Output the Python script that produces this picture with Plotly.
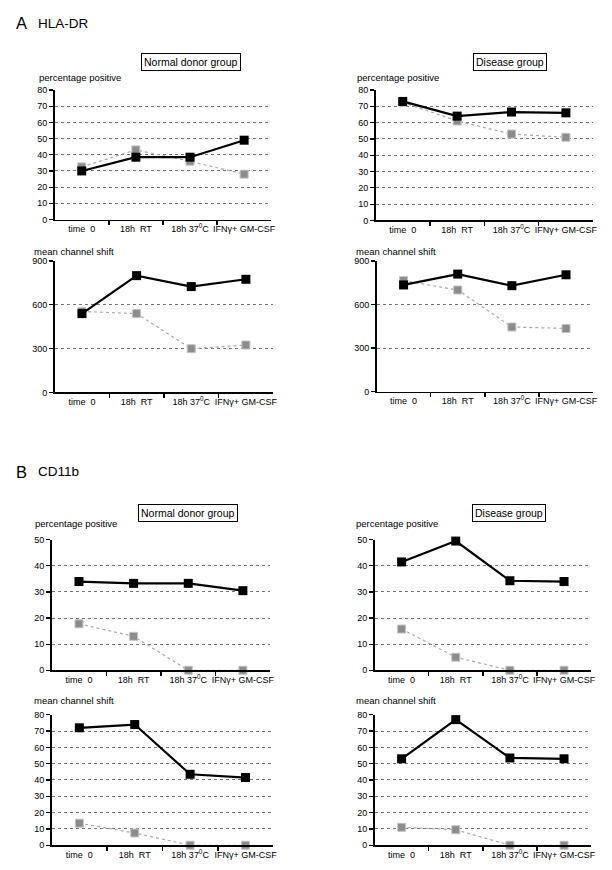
import plotly.graph_objects as go

W, H = 612, 870

categories = ["time  0", "18h  RT", "18h 37<sup>0</sup>C", "IFNγ+ GM-CSF"]

# Panel A: HLA-DR
a_norm_pct_black = [30, 38.5, 38.5, 49]
a_norm_pct_gray = [32.5, 43, 36, 28]
a_dis_pct_black = [73, 64, 66.5, 66]
a_dis_pct_gray = [72.5, 61, 53, 51]
a_norm_mcs_black = [540, 800, 725, 775]
a_norm_mcs_gray = [555, 540, 300, 325]
a_dis_mcs_black = [735, 810, 730, 805]
a_dis_mcs_gray = [765, 700, 445, 435]

# Panel B: CD11b
b_norm_pct_black = [34, 33.3, 33.3, 30.5]
b_norm_pct_gray = [17.8, 13, 0, 0]
b_dis_pct_black = [41.5, 49.5, 34.3, 34]
b_dis_pct_gray = [15.8, 5, 0, 0]
b_norm_mcs_black = [72, 74, 43.5, 41.5]
b_norm_mcs_gray = [13.5, 7.5, 0, 0]
b_dis_mcs_black = [53, 77, 53.5, 53]
b_dis_mcs_gray = [11, 9.5, 0, 0]

ticks_pct_a = [0, 10, 20, 30, 40, 50, 60, 70, 80]
ticks_mcs_a = [0, 300, 600, 900]
ticks_pct_b = [0, 10, 20, 30, 40, 50]
ticks_mcs_b = [0, 10, 20, 30, 40, 50, 60, 70, 80]

FONT = "Liberation Sans, Arial, sans-serif"

# (black, gray, yticks, x0px, x1px, y0px(top), y1px(bottom), ylabel, labelx, labely)
panels = [
    (a_norm_pct_black, a_norm_pct_gray, ticks_pct_a, 55, 273, 86, 217, "percentage positive", 37, 73),
    (a_dis_pct_black, a_dis_pct_gray, ticks_pct_a, 378, 597, 86, 218, "percentage positive", 357, 73),
    (a_norm_mcs_black, a_norm_mcs_gray, ticks_mcs_a, 55, 275, 259, 392, "mean channel shift", 32, 249),
    (a_dis_mcs_black, a_dis_mcs_gray, ticks_mcs_a, 379, 597, 259, 391, "mean channel shift", 356, 249),
    (b_norm_pct_black, b_norm_pct_gray, ticks_pct_b, 52, 272, 541, 673, "percentage positive", 33, 525),
    (b_dis_pct_black, b_dis_pct_gray, ticks_pct_b, 377, 595, 541, 673, "percentage positive", 356, 525),
    (b_norm_mcs_black, b_norm_mcs_gray, ticks_mcs_b, 52, 275, 718, 850, "mean channel shift", 32, 704),
    (b_dis_mcs_black, b_dis_mcs_gray, ticks_mcs_b, 377, 595, 718, 850, "mean channel shift", 356, 704),
]

fig = go.Figure()
layout = dict(
    width=W, height=H, margin=dict(l=0, r=0, t=0, b=0),
    paper_bgcolor="white", plot_bgcolor="white", showlegend=False,
    font=dict(family=FONT, color="black", size=9),
)
annotations = []
xpos = list(range(len(categories)))

for i, (blk, gry, yt, x0, x1, y0, y1, ylab, lx, ly) in enumerate(panels):
    n = i + 1
    xa = "x" if n == 1 else f"x{n}"
    ya = "y" if n == 1 else f"y{n}"
    fig.add_trace(go.Scatter(
        x=xpos, y=gry, xaxis=xa, yaxis=ya, mode="lines+markers",
        line=dict(color="#a8a8a8", width=1.2, dash="dot"),
        marker=dict(symbol="square", size=8, color="#8c8c8c", line=dict(color="#c4c4c4", width=1)),
        cliponaxis=False,
    ))
    fig.add_trace(go.Scatter(
        x=xpos, y=blk, xaxis=xa, yaxis=ya, mode="lines+markers",
        line=dict(color="black", width=2.2),
        marker=dict(symbol="square", size=9, color="black"),
        cliponaxis=False,
    ))
    layout[f"xaxis{'' if n == 1 else n}"] = dict(
        domain=[x0 / W, x1 / W], anchor=ya, range=[-0.5, 3.5],
        tickmode="array", tickvals=xpos, ticktext=categories, ticks="",
        showline=True, linecolor="black", linewidth=1.5, showgrid=False, zeroline=False,
        tickfont=dict(size=9, family=FONT, color="black"),
        minor=dict(tickmode="array", tickvals=[0.5, 1.5, 2.5], ticks="outside", ticklen=4,
                   tickwidth=1.5, tickcolor="black", showgrid=False),
        fixedrange=True,
    )
    layout[f"yaxis{'' if n == 1 else n}"] = dict(
        domain=[1 - y1 / H, 1 - y0 / H], anchor=xa, range=[yt[0], yt[-1]],
        tickmode="array", tickvals=yt, ticks="outside", ticklen=4, tickwidth=1.2, tickcolor="black",
        showline=True, linecolor="black", linewidth=1.5,
        showgrid=True, gridcolor="#555555", gridwidth=0.8, griddash="dot", zeroline=False,
        tickfont=dict(size=9, family=FONT, color="black"),
        fixedrange=True,
    )
    annotations.append(dict(
        text=ylab, x=lx / W, y=1 - ly / H, xref="paper", yref="paper",
        xanchor="left", yanchor="middle", showarrow=False,
        font=dict(size=9.5, family=FONT, color="black"),
    ))

boxes = [("Normal donor group", 192, 57.5), ("Disease group", 513, 57.5),
         ("Normal donor group", 189, 514), ("Disease group", 512, 513.5)]
for txt, cx, cy in boxes:
    annotations.append(dict(
        text=txt, x=cx / W, y=1 - cy / H, xref="paper", yref="paper",
        xanchor="center", yanchor="middle", showarrow=False,
        font=dict(size=10.5, family=FONT, color="black"),
        bordercolor="black", borderwidth=1, borderpad=2, bgcolor="white",
    ))

for letter, name, ty in [("A", "HLA-DR", 18.5), ("B", "CD11b", 472)]:
    annotations.append(dict(
        text=letter, x=14 / W, y=1 - ty / H, xref="paper", yref="paper",
        xanchor="left", yanchor="middle", showarrow=False,
        font=dict(size=16.5, family=FONT, color="black"),
    ))
    annotations.append(dict(
        text=name, x=36 / W, y=1 - ty / H, xref="paper", yref="paper",
        xanchor="left", yanchor="middle", showarrow=False,
        font=dict(size=13.5, family=FONT, color="black"),
    ))

layout["annotations"] = annotations
fig.update_layout(**layout)
fig.write_html(
    "out.html",
    config={"displayModeBar": False, "staticPlot": True},
    post_script="document.body.style.margin='0';document.body.style.overflow='hidden';",
)
